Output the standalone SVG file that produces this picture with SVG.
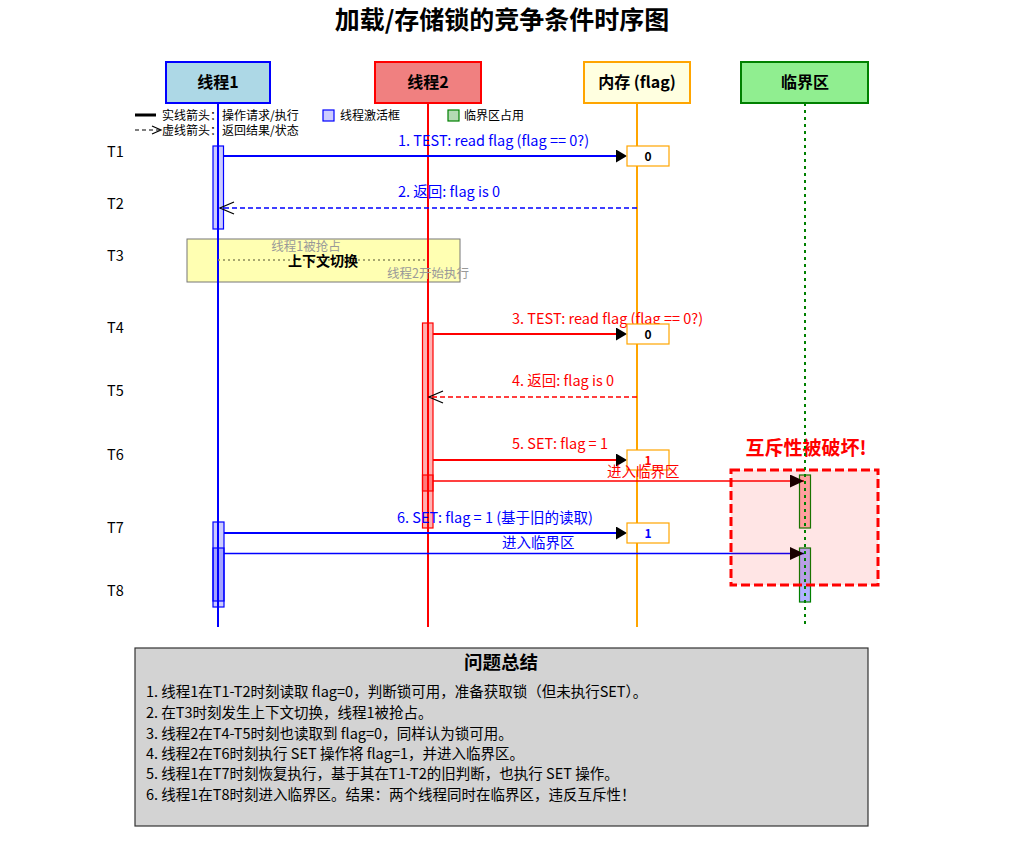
<svg xmlns="http://www.w3.org/2000/svg" width="1034" height="856" viewBox="0 0 1034 856">
<style>
text{font-family:"Noto Sans CJK SC","Noto Sans",sans-serif;}
.title{font-size:25px;font-weight:bold;text-anchor:middle;fill:#000;}
.hdr{font-size:16px;font-weight:bold;text-anchor:middle;fill:#000;}
.leg{font-size:12px;fill:#000;}
.tl{font-size:14.5px;fill:#000;}
.msg{font-size:14.5px;}
.blue{fill:#0000ff;}
.red{fill:#ff0000;}
.life{stroke-width:2;fill:none;}
.act1{fill:#0000ff;fill-opacity:0.2;stroke:#0000ff;stroke-width:1.2;}
.act2{fill:#ff0000;fill-opacity:0.3;stroke:#ff0000;stroke-width:1.2;}
.val{fill:#ffffff;stroke:#ffa500;stroke-width:1.2;}
.valt{font-size:12px;font-weight:bold;text-anchor:middle;}
.solid{stroke-width:2;fill:none;}
.dash{stroke-width:1.5;stroke-dasharray:5,3;fill:none;}
.thin{stroke-width:1.4;fill:none;}
.sum{font-size:14.5px;fill:#000;}
.ctx{font-size:12.5px;text-anchor:middle;fill:#999;}
</style>
<defs>
<marker id="ah" markerUnits="userSpaceOnUse" viewBox="0 0 11 13" markerWidth="11" markerHeight="13" refX="6" refY="6.5" orient="auto">
<path d="M0,0 L11,6.5 L0,13 z" fill="#000"/>
</marker>
<marker id="ahe" markerUnits="userSpaceOnUse" viewBox="0 0 15 13" markerWidth="15" markerHeight="13" refX="14" refY="6.5" orient="auto">
<path d="M0,0 L14,6.5 L0,13 z" fill="#000"/>
</marker>
<marker id="ao" markerUnits="userSpaceOnUse" viewBox="0 0 16 14" markerWidth="16" markerHeight="14" refX="15" refY="7" orient="auto">
<path d="M1,1 L15,7 L1,13" fill="none" stroke="#000" stroke-width="1.3"/>
</marker>
</defs>
<rect width="1034" height="856" fill="#ffffff"/>
<text class="title" x="502" y="29">加载/存储锁的竞争条件时序图</text>

<g id="context-switch-box">
<rect x="187" y="239" width="273" height="43" fill="#ffff00" fill-opacity="0.3" stroke="#777" stroke-width="1"/>
</g>

<g id="legend">
<line x1="135" y1="115" x2="156" y2="115" stroke="#000" stroke-width="3"/>
<text class="leg" x="162" y="119.5">实线箭头：操作请求/执行</text>
<line x1="135" y1="130" x2="160" y2="130" stroke="#000" stroke-width="1.2" stroke-dasharray="4,3"/>
<path d="M152,126 L161,130 L152,134" fill="none" stroke="#000" stroke-width="1.2"/>
<text class="leg" x="162" y="134.5">虚线箭头：返回结果/状态</text>
<rect x="323" y="110" width="11" height="11" fill="#ccccff" stroke="#0000ff" stroke-width="1.2"/>
<text class="leg" x="340" y="119.5">线程激活框</text>
<rect x="448" y="110" width="11" height="11" fill="#b3dab3" stroke="#008000" stroke-width="1.2"/>
<text class="leg" x="464" y="119.5">临界区占用</text>
</g>

<g id="time-labels">
<text class="tl" x="107" y="157">T1</text>
<text class="tl" x="107" y="209">T2</text>
<text class="tl" x="107" y="261">T3</text>
<text class="tl" x="107" y="333">T4</text>
<text class="tl" x="107" y="396">T5</text>
<text class="tl" x="107" y="460">T6</text>
<text class="tl" x="107" y="533">T7</text>
<text class="tl" x="107" y="596">T8</text>
</g>

<g id="thread1">
<rect x="166" y="62" width="104" height="41" fill="#add8e6" stroke="#0000ff" stroke-width="2"/>
<text class="hdr" x="218" y="88">线程1</text>
<line class="life" x1="218" y1="103" x2="218" y2="627" stroke="#0000ff"/>
</g>
<g id="thread2">
<rect x="375" y="62" width="106" height="41" fill="#f08080" stroke="#ff0000" stroke-width="2"/>
<text class="hdr" x="428" y="88">线程2</text>
<line class="life" x1="428" y1="103" x2="428" y2="627" stroke="#ff0000"/>
</g>
<g id="memory">
<rect x="584" y="62" width="106" height="41" fill="#ffffe0" stroke="#ffa500" stroke-width="2"/>
<text class="hdr" x="637" y="88">内存 (flag)</text>
<line class="life" x1="637" y1="103" x2="637" y2="627" stroke="#ffa500"/>
</g>

<g id="context-switch">
<line x1="218" y1="260" x2="428" y2="260" stroke="#8a8a5a" stroke-width="1.5" stroke-dasharray="2,3"/>
<text class="ctx" x="306" y="250.5">线程1被抢占</text>
<text x="323" y="266" font-size="14" font-weight="bold" text-anchor="middle" fill="#000">上下文切换</text>
<text class="ctx" x="428" y="277.5">线程2开始执行</text>
</g>

<g id="activations">
<rect class="act1" x="213" y="146" width="10.5" height="83"/>
<rect class="act2" x="422.5" y="323" width="10.5" height="205"/>
<rect class="act2" x="422.5" y="475" width="10.5" height="16"/>
<rect class="act1" x="213" y="522" width="11" height="85"/>
<rect class="act1" x="213" y="548" width="11" height="53"/>
</g>

<g id="connectors">
<line class="solid" x1="223.5" y1="156" x2="622" y2="156" stroke="#0000ff" marker-end="url(#ah)"/>
<text class="msg blue" x="398" y="146">1. TEST: read flag (flag == 0?)</text>
<line class="dash" x1="637" y1="208" x2="220" y2="208" stroke="#0000ff" marker-end="url(#ao)"/>
<text class="msg blue" x="398" y="197">2. 返回: flag is 0</text>
<line class="solid" x1="433" y1="334" x2="622" y2="334" stroke="#ff0000" marker-end="url(#ah)"/>
<text class="msg red" x="512" y="324">3. TEST: read flag (flag == 0?)</text>
<line class="dash" x1="637" y1="397" x2="429" y2="397" stroke="#ff0000" marker-end="url(#ao)"/>
<text class="msg red" x="512" y="386">4. 返回: flag is 0</text>
<line class="solid" x1="433" y1="460" x2="622" y2="460" stroke="#ff0000" marker-end="url(#ah)"/>
<text class="msg red" x="512" y="449">5. SET: flag = 1</text>
<line class="solid" x1="224" y1="533" x2="622" y2="533" stroke="#0000ff" marker-end="url(#ah)"/>
<text class="msg blue" x="397" y="523">6. SET: flag = 1 (基于旧的读取)</text>
</g>

<g id="values">
<rect class="val" x="627" y="146" width="42" height="20"/>
<text class="valt" x="648" y="160.5" fill="#000">0</text>
<rect class="val" x="627" y="324" width="42" height="20"/>
<text class="valt" x="648" y="338.5" fill="#000">0</text>
<rect class="val" x="627" y="450" width="42" height="20"/>
<text class="valt" x="648" y="464.5" fill="#ff0000">1</text>
<rect class="val" x="627" y="523" width="42" height="20"/>
<text class="valt" x="648" y="537.5" fill="#0000ff">1</text>
</g>

<g id="critical-section">
<rect x="741" y="62" width="127" height="41" fill="#90ee90" stroke="#008000" stroke-width="2"/>
<text class="hdr" x="805" y="88">临界区</text>
</g>

<g id="critical-occupancy">
<rect x="799.5" y="475" width="11" height="53" fill="#ff0000" fill-opacity="0.3" stroke="#008000" stroke-width="1.2"/>
<rect x="799.5" y="548" width="11" height="54" fill="#0000ff" fill-opacity="0.3" stroke="#008000" stroke-width="1.2"/>
</g>

<g id="enter-connectors">
<line class="thin" x1="433" y1="481" x2="804" y2="481" stroke="#ff0000" marker-end="url(#ahe)"/>
<text class="msg red" x="607" y="477">进入临界区</text>
<line class="thin" x1="224" y1="553.5" x2="804" y2="553.5" stroke="#0000ff" marker-end="url(#ahe)"/>
<text class="msg blue" x="502" y="548">进入临界区</text>
</g>

<g id="violation">
<rect x="731" y="470" width="147" height="115" fill="#ff0000" fill-opacity="0.1" stroke="#ff0000" stroke-width="3" stroke-dasharray="9,4"/>
<text x="806" y="455" font-size="19" font-weight="bold" text-anchor="middle" fill="#ff0000">互斥性被破坏!</text>
</g>

<g id="critical-lifeline">
<line x1="805" y1="103" x2="805" y2="627" stroke="#008000" stroke-width="2" stroke-dasharray="3,4"/>
</g>

<g id="summary">
<rect x="135" y="648" width="733" height="178" fill="#d3d3d3" stroke="#333" stroke-width="1.2"/>
<text x="501" y="669" font-size="18.5" font-weight="bold" text-anchor="middle" fill="#000">问题总结</text>
<text class="sum" x="146" y="697">1. 线程1在T1-T2时刻读取 flag=0，判断锁可用，准备获取锁（但未执行SET）。</text>
<text class="sum" x="146" y="718">2. 在T3时刻发生上下文切换，线程1被抢占。</text>
<text class="sum" x="146" y="739">3. 线程2在T4-T5时刻也读取到 flag=0，同样认为锁可用。</text>
<text class="sum" x="146" y="759">4. 线程2在T6时刻执行 SET 操作将 flag=1，并进入临界区。</text>
<text class="sum" x="146" y="779">5. 线程1在T7时刻恢复执行，基于其在T1-T2的旧判断，也执行 SET 操作。</text>
<text class="sum" x="146" y="800">6. 线程1在T8时刻进入临界区。结果：两个线程同时在临界区，违反互斥性！</text>
</g>
</svg>
